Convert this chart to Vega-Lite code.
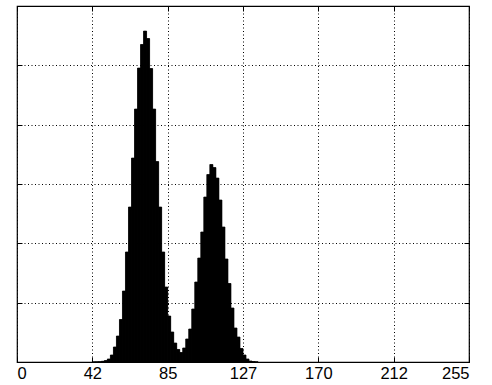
{
  "$schema": "https://vega.github.io/schema/vega-lite/v6.json",
  "width": 452,
  "height": 356,
  "autosize": {"type": "none"},
  "padding": {"left": 17, "top": 6, "right": 23, "bottom": 23},
  "background": "white",
  "config": {
    "view": {"stroke": "black", "strokeWidth": 1.2},
    "axis": {
      "domain": false,
      "tickColor": "black",
      "tickWidth": 1,
      "tickSize": -5,
      "gridColor": "black",
      "gridDash": [1, 2.5],
      "gridWidth": 1,
      "gridOpacity": 1,
      "labelFont": "Liberation Sans",
      "labelFontSize": 16.5,
      "labelColor": "black",
      "title": null
    }
  },
  "data": {
    "values": [
      {"lo": 42.5, "hi": 44.2, "count": 2},
      {"lo": 44.2, "hi": 45.9, "count": 3},
      {"lo": 45.9, "hi": 47.6, "count": 5},
      {"lo": 47.6, "hi": 49.3, "count": 12},
      {"lo": 49.3, "hi": 51.0, "count": 25},
      {"lo": 51.0, "hi": 52.7, "count": 51},
      {"lo": 52.7, "hi": 54.4, "count": 118},
      {"lo": 54.4, "hi": 56.1, "count": 253},
      {"lo": 56.1, "hi": 57.8, "count": 438},
      {"lo": 57.8, "hi": 59.5, "count": 716},
      {"lo": 59.5, "hi": 61.2, "count": 1196},
      {"lo": 61.2, "hi": 62.9, "count": 1854},
      {"lo": 62.9, "hi": 64.6, "count": 2612},
      {"lo": 64.6, "hi": 66.3, "count": 3437},
      {"lo": 66.3, "hi": 68.0, "count": 4263},
      {"lo": 68.0, "hi": 69.7, "count": 4954},
      {"lo": 69.7, "hi": 71.4, "count": 5350},
      {"lo": 71.4, "hi": 73.1, "count": 5577},
      {"lo": 73.1, "hi": 74.8, "count": 5451},
      {"lo": 74.8, "hi": 76.5, "count": 4945},
      {"lo": 76.5, "hi": 78.2, "count": 4263},
      {"lo": 78.2, "hi": 79.9, "count": 3378},
      {"lo": 79.9, "hi": 81.6, "count": 2612},
      {"lo": 81.6, "hi": 83.3, "count": 1854},
      {"lo": 83.3, "hi": 85.0, "count": 1264},
      {"lo": 85.0, "hi": 86.7, "count": 775},
      {"lo": 86.7, "hi": 88.4, "count": 506},
      {"lo": 88.4, "hi": 90.1, "count": 320},
      {"lo": 90.1, "hi": 91.8, "count": 211},
      {"lo": 91.8, "hi": 93.5, "count": 160},
      {"lo": 93.5, "hi": 95.2, "count": 236},
      {"lo": 95.2, "hi": 96.9, "count": 388},
      {"lo": 96.9, "hi": 98.6, "count": 556},
      {"lo": 98.6, "hi": 100.3, "count": 893},
      {"lo": 100.3, "hi": 102.0, "count": 1348},
      {"lo": 102.0, "hi": 103.7, "count": 1752},
      {"lo": 103.7, "hi": 105.4, "count": 2191},
      {"lo": 105.4, "hi": 107.1, "count": 2780},
      {"lo": 107.1, "hi": 108.8, "count": 3159},
      {"lo": 108.8, "hi": 110.5, "count": 3328},
      {"lo": 110.5, "hi": 112.2, "count": 3277},
      {"lo": 112.2, "hi": 113.9, "count": 3100},
      {"lo": 113.9, "hi": 115.6, "count": 2730},
      {"lo": 115.6, "hi": 117.3, "count": 2275},
      {"lo": 117.3, "hi": 119.0, "count": 1736},
      {"lo": 119.0, "hi": 120.7, "count": 1323},
      {"lo": 120.7, "hi": 122.4, "count": 910},
      {"lo": 122.4, "hi": 124.1, "count": 573},
      {"lo": 124.1, "hi": 125.8, "count": 421},
      {"lo": 125.8, "hi": 127.5, "count": 227},
      {"lo": 127.5, "hi": 129.2, "count": 118},
      {"lo": 129.2, "hi": 130.9, "count": 51},
      {"lo": 130.9, "hi": 132.6, "count": 17},
      {"lo": 132.6, "hi": 134.3, "count": 8},
      {"lo": 134.3, "hi": 136.0, "count": 3}
    ]
  },
  "layer": [
    {
      "mark": {"type": "bar", "color": "black", "stroke": "black", "strokeWidth": 0.4},
      "encoding": {
        "x": {
          "field": "lo",
          "type": "quantitative",
          "scale": {"domain": [0, 255], "nice": false, "zero": false},
          "axis": {
            "orient": "bottom",
            "values": [0, 42.5, 85, 127.5, 170, 212.5, 255],
            "labelExpr": "floor(datum.value)",
            "grid": true,
            "labelPadding": 8
          }
        },
        "x2": {"field": "hi"},
        "y": {
          "field": "count",
          "type": "quantitative",
          "scale": {"domain": [0, 6000], "nice": false},
          "axis": {
            "orient": "left",
            "values": [0, 1000, 2000, 3000, 4000, 5000, 6000],
            "labels": false,
            "grid": true
          }
        },
        "y2": {"datum": 0}
      }
    },
    {
      "mark": {"type": "bar", "color": "black", "stroke": "black", "strokeWidth": 0.4},
      "encoding": {
        "x": {
          "field": "lo",
          "type": "quantitative",
          "axis": {
            "orient": "top",
            "values": [0, 42.5, 85, 127.5, 170, 212.5, 255],
            "labels": false,
            "grid": false
          }
        },
        "x2": {"field": "hi"},
        "y": {
          "field": "count",
          "type": "quantitative",
          "axis": {
            "orient": "right",
            "values": [0, 1000, 2000, 3000, 4000, 5000, 6000],
            "labels": false,
            "grid": false
          }
        },
        "y2": {"datum": 0}
      }
    }
  ],
  "resolve": {"axis": {"x": "independent", "y": "independent"}}
}
